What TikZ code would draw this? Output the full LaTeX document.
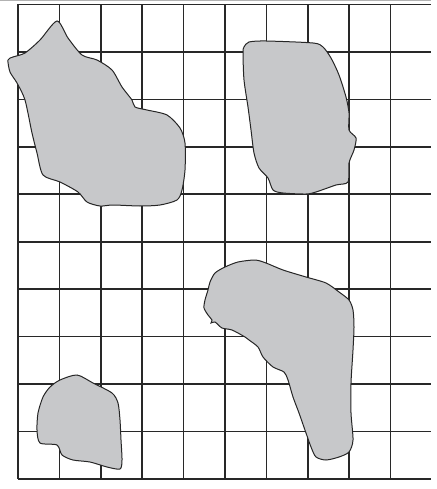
\documentclass[tikz,border=0pt]{standalone}
\usepackage{tikz}
\definecolor{blobgray}{RGB}{199,200,202}
\definecolor{gridgray}{RGB}{40,40,40}

\begin{document}
\begin{tikzpicture}[x=1pt,y=-1pt,
  gridline/.style={draw=gridgray,line width=1.7pt},
  blob/.style={fill=blobgray,draw=black!85,line width=1pt,smooth cycle,tension=0.45}]
  \useasboundingbox (0,0) rectangle (436,489);
  \draw[gray!60,line width=1.2pt] (0,0.8) -- (431,0.8);
  % grid
  \foreach \i in {0,...,9}
    \draw[gridline] (18+41.4*\i,4.5) -- (18+41.4*\i,479);
  \foreach \j in {0,...,10}
    \draw[gridline] (18,4.5+47.44*\j) -- (431,4.5+47.44*\j);
  % top left blob
  \draw[blob] plot coordinates {(57,21) (68,38) (82,55) (97,60) (112,70) (122,87)
    (132,100) (135,107) (147,110) (167,115) (180,128) (185,143) (185,170) (182,190)
    (177,200) (160,205) (140,206) (113,205) (100,206) (87,202) (78,192) (60,182)
    (43,175) (37,153) (32,133) (25,100) (17,83) (10,72) (8,60) (13,57) (25,53) (40,40)};
  % top right blob
  \draw[blob] plot coordinates {(249,42) (266,41) (313,43) (323,47) (331,58) (339,75)
    (346,97) (349,113) (349,130) (356,138) (354,150) (349,163) (348,182) (336,185)
    (316,192) (306,194) (283,193) (273,190) (268,178) (259,168) (254,153) (251,130)
    (248,107) (244,80) (243,53) (244,47)};
  % bottom left blob
  \draw[blob] plot coordinates {(60,380) (77,375) (93,383) (112,393) (118,403)
    (120,420) (121,440) (122,460) (120,469) (107,467) (90,462) (73,460) (62,455)
    (57,445) (40,443) (37,430) (38,413) (43,397) (50,387)};
  % bottom right blob
  \draw[blob] plot coordinates {(238,262) (255,260) (266,263) (283,270) (306,277)
    (326,283) (339,292) (349,300) (353,310) (354,327) (353,350) (351,383) (351,413)
    (353,440) (349,452) (339,457) (326,460) (316,457) (311,447) (306,433) (299,413)
    (293,397) (288,380) (284,372) (273,367) (263,357) (258,347) (249,340) (245,337)
    (232,330) (222,328) (215,322) (211,323) (212,320) (208,315) (204,308) (205,300)
    (208,290) (210,282) (215,273) (225,267)};
\end{tikzpicture}
\end{document}
